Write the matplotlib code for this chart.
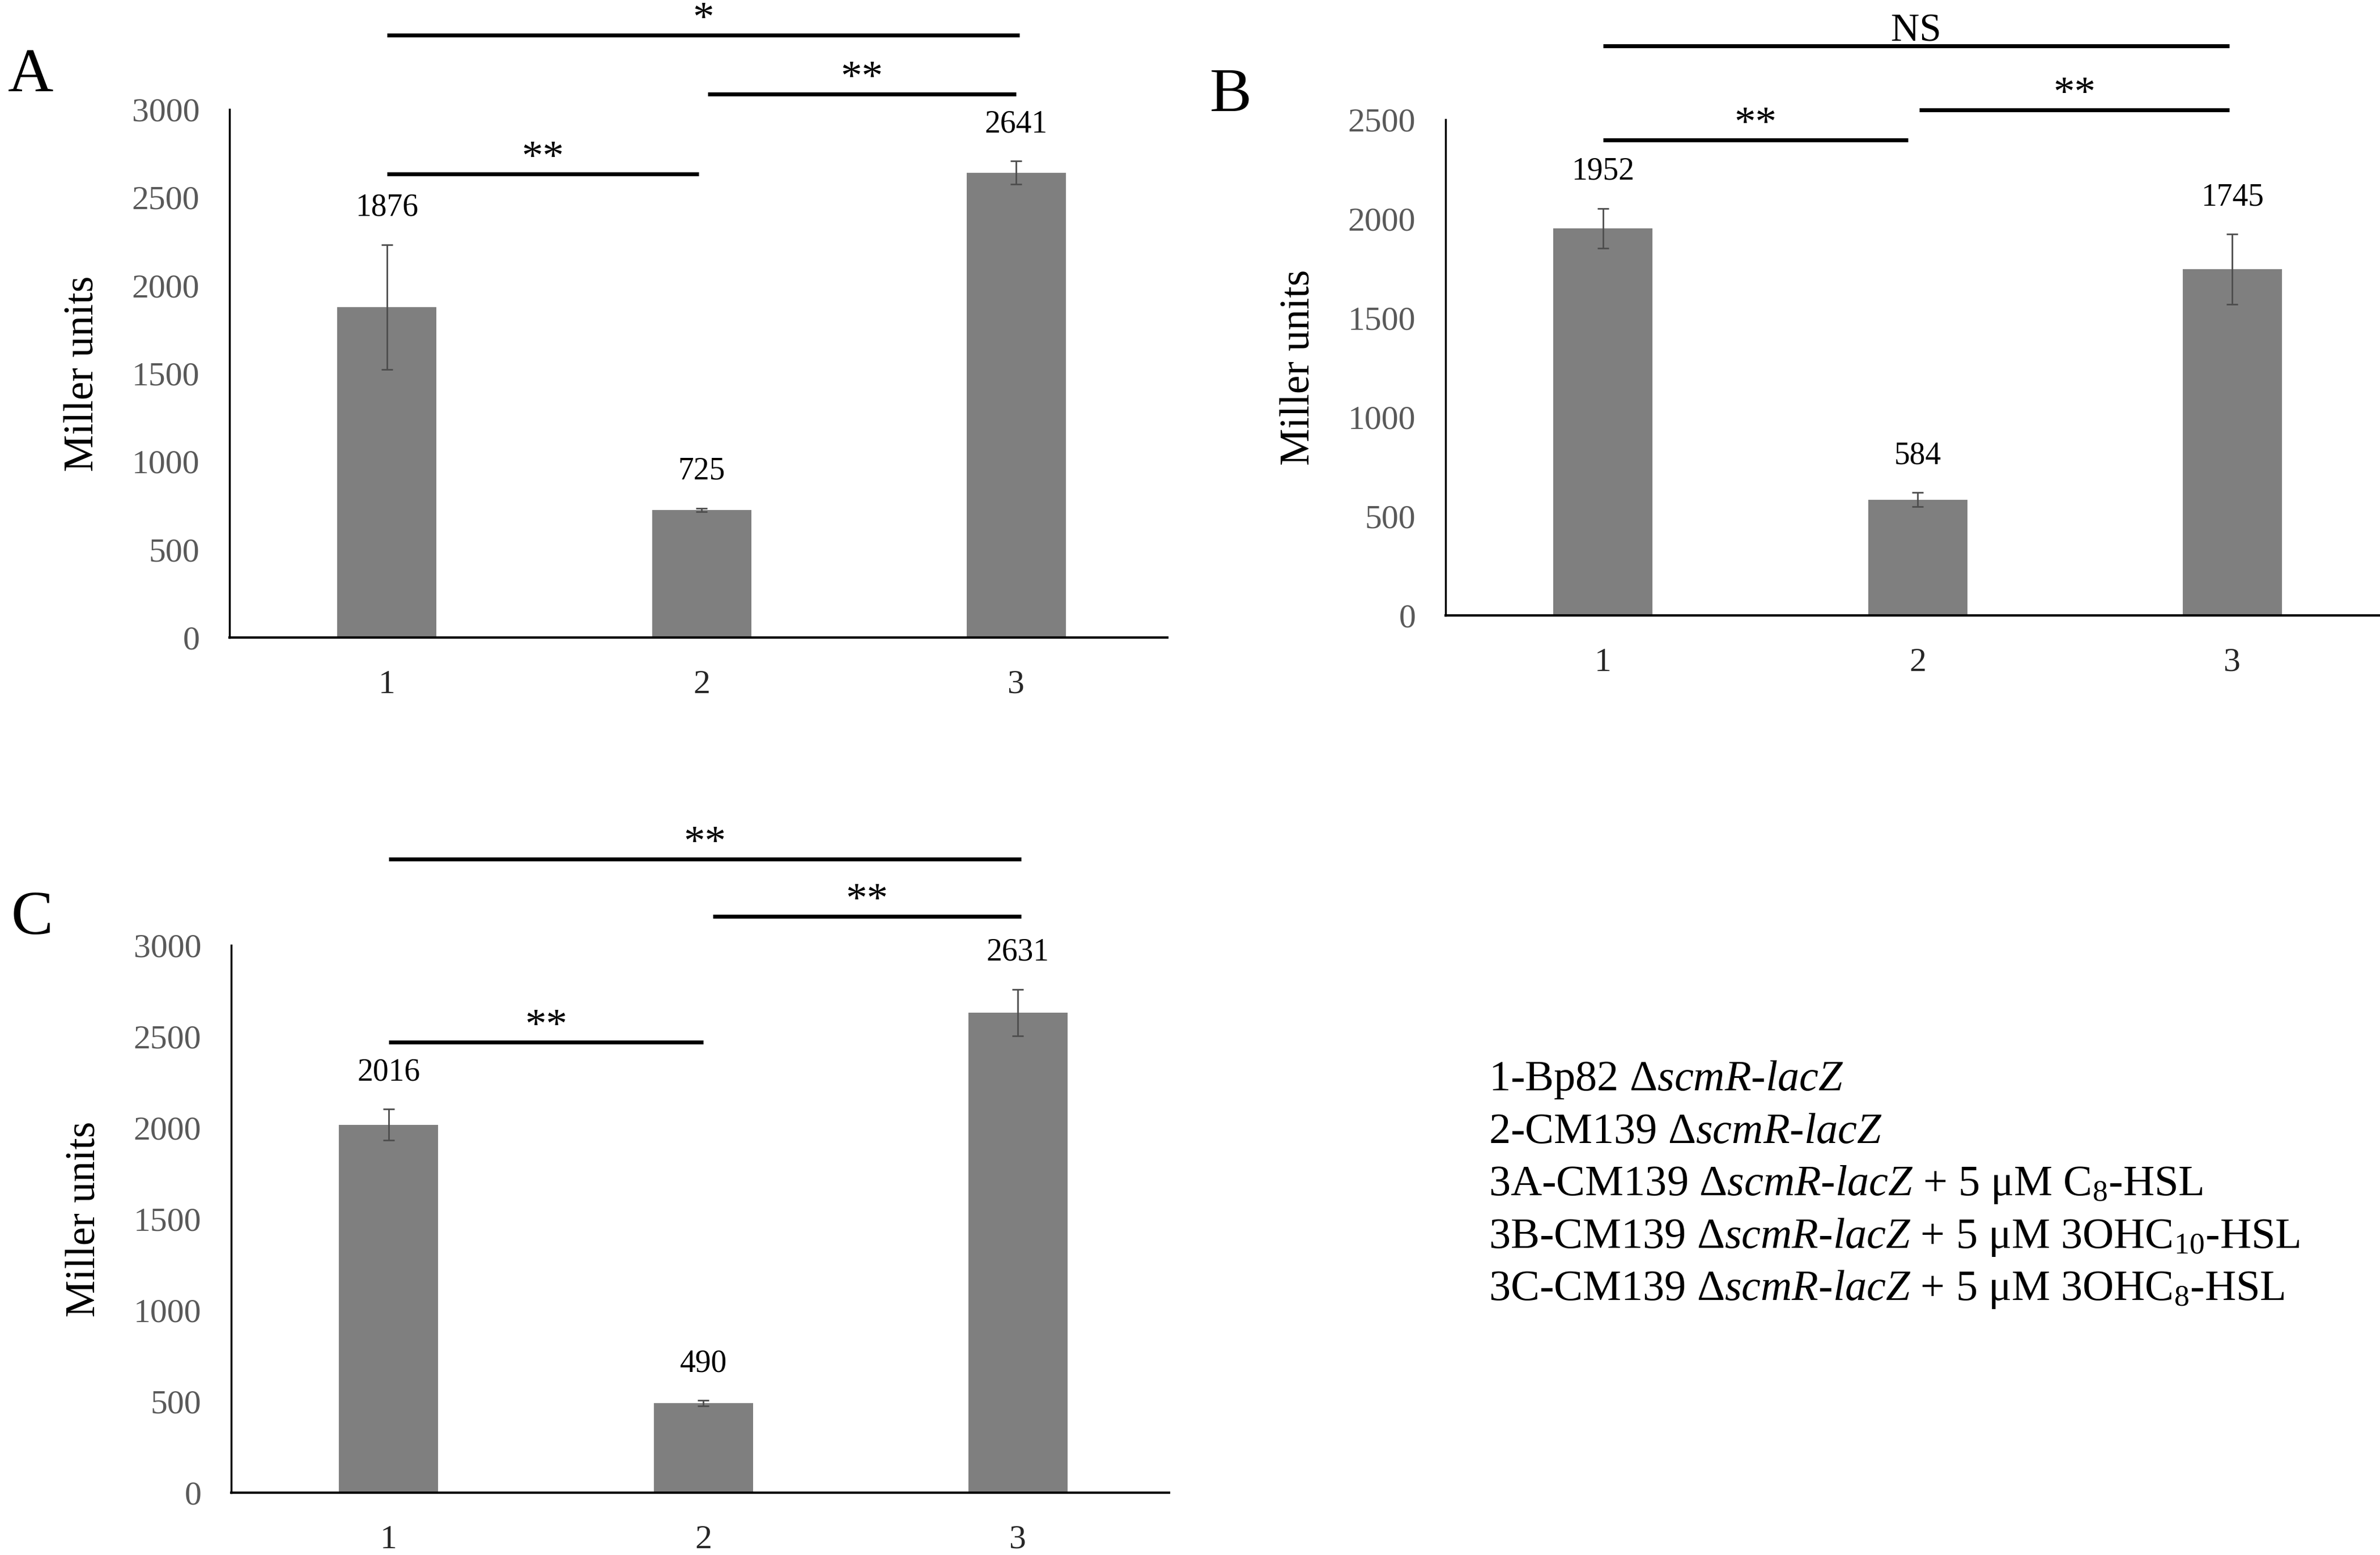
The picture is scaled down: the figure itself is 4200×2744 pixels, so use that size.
import numpy as np
import matplotlib.pyplot as plt

plt.rcParams['font.family'] = 'Liberation Serif'
plt.rcParams['mathtext.fontset'] = 'custom'
plt.rcParams['mathtext.rm'] = 'Liberation Serif'
plt.rcParams['mathtext.it'] = 'Liberation Serif:italic'

# dane
groups = ['1', '2', '3']

mean_a = [1876, 725, 2641]
err_a = [355, 10, 65]
mean_b = [1952, 584, 1745]
err_b = [100, 35, 177]
mean_c = [2016, 490, 2631]
err_c = [85, 15, 127]

# linie istotnosci: (od, do, wysokosc, napis)
sig_a = [(0, 0.99, 2633, '**'), (1.02, 2.0, 3087, '**'), (0, 2.01, 3422, '*')]
sig_b = [(0, 0.97, 2397, '**'), (1.005, 1.99, 2549, '**'), (0, 1.99, 2871, 'NS')]
sig_c = [(0, 1.0, 2469, '**'), (1.03, 2.01, 3158, '**'), (0, 2.01, 3472, '**')]

legend_lines = [
    '1-Bp82 Δ$\\mathit{scmR}$-$\\mathit{lacZ}$',
    '2-CM139 Δ$\\mathit{scmR}$-$\\mathit{lacZ}$',
    '3A-CM139 Δ$\\mathit{scmR}$-$\\mathit{lacZ}$ + 5 μM $\\mathrm{C}_{8}$-HSL',
    '3B-CM139 Δ$\\mathit{scmR}$-$\\mathit{lacZ}$ + 5 μM 3OH$\\mathrm{C}_{10}$-HSL',
    '3C-CM139 Δ$\\mathit{scmR}$-$\\mathit{lacZ}$ + 5 μM 3OH$\\mathrm{C}_{8}$-HSL',
]

W, H = 4200, 2744
fig = plt.figure(figsize=(W / 100, H / 100), dpi=100)

panels = [
    ('A', mean_a, err_a, sig_a, 3000, [405, 1125, 932], (54, 134)),
    ('B', mean_b, err_b, sig_b, 2500, [2551, 1086, 875], (2172, 169)),
    ('C', mean_c, err_c, sig_c, 3000, [408, 2634, 966], (56, 1621)),
]

for name, mean, err, sig, ymax, (left, bottom, height), (lx, ly) in panels:
    ax = fig.add_axes([left / W, 1 - bottom / H, 1655 / W, height / H])
    x = np.arange(len(groups))
    ax.bar(x, mean, width=0.315, color='#7f7f7f')
    ax.errorbar(x, mean, yerr=err, fmt='none', ecolor='#4d4d4d',
                elinewidth=2, capsize=7, capthick=2)
    for xi, m, e in zip(x, mean, err):
        ax.annotate(str(m), xy=(xi, m + e), xytext=(0, 47),
                    textcoords='offset points', ha='center', va='center',
                    fontsize=40, color='black')
    for x0, x1, y, txt in sig:
        ax.plot([x0, x1], [y, y], color='black', lw=5, clip_on=False,
                solid_capstyle='butt')
        ax.annotate(txt, xy=((x0 + x1) / 2, y), xytext=(0, 6),
                    textcoords='offset points', ha='center', va='baseline',
                    fontsize=54 if '*' in txt else 50, annotation_clip=False)
    ax.set_xlim(-0.5, 2.48)
    ax.set_ylim(0, ymax)
    ax.set_yticks(np.arange(0, ymax + 1, 500))
    ax.set_xticks(x)
    ax.set_xticklabels(groups)
    ax.spines['top'].set_visible(False)
    ax.spines['right'].set_visible(False)
    ax.spines['left'].set_linewidth(2.5)
    ax.spines['bottom'].set_linewidth(3)
    ax.tick_params(axis='both', length=0, labelsize=43)
    ax.tick_params(axis='y', pad=38, labelcolor='#595959')
    ax.tick_params(axis='x', pad=41, labelcolor='#262626')
    ax.set_ylabel('Miller units', fontsize=53, va='center')
    ax.yaxis.set_label_coords(-258 / 1655, 0.5)
    fig.text(lx / W, 1 - ly / H, name, fontsize=80, ha='center', va='center')

for i, line in enumerate(legend_lines):
    fig.text(2627 / W, 1 - (1924 + 92.5 * i) / H, line, fontsize=55,
             ha='left', va='baseline')

fig.savefig('out.png', dpi=100)
